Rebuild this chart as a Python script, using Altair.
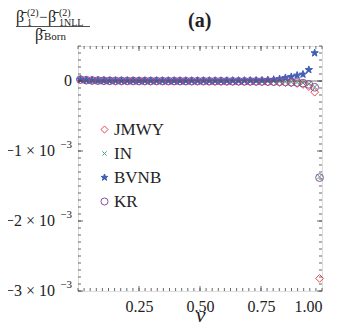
import altair as alt
import pandas as pd
import numpy as np

# ---- data (values in units of 1e-3) ----
v = [0.010, 0.034, 0.058, 0.082, 0.106, 0.130, 0.154, 0.178, 0.202, 0.226,
     0.250, 0.274, 0.298, 0.322, 0.346, 0.370, 0.394, 0.418, 0.442, 0.466,
     0.490, 0.514, 0.538, 0.562, 0.586, 0.610, 0.634, 0.658, 0.682, 0.706,
     0.730, 0.754, 0.778, 0.802, 0.826, 0.850, 0.874, 0.898, 0.922, 0.946,
     0.970]
v_last = [0.990]

jmwy = [0.020, 0.012, 0.008, 0.006, 0.004, 0.003, 0.002, 0.002, 0.001, 0.001,
        0.000, 0.000, 0.000, -0.001, -0.001, -0.001, -0.002, -0.002, -0.002, -0.003,
        -0.003, -0.003, -0.004, -0.004, -0.005, -0.005, -0.006, -0.007, -0.008, -0.009,
        -0.010, -0.012, -0.014, -0.016, -0.019, -0.023, -0.028, -0.036, -0.050, -0.080,
        -0.160]
jmwy_last = [-2.82]

in_ = [0.020, 0.012, 0.008, 0.006, 0.004, 0.003, 0.002, 0.002, 0.001, 0.001,
       0.000, 0.000, 0.000, 0.000, -0.001, -0.001, -0.001, -0.001, -0.002, -0.002,
       -0.002, -0.002, -0.003, -0.003, -0.003, -0.004, -0.004, -0.004, -0.005, -0.005,
       -0.005, -0.006, -0.007, -0.008, -0.010, -0.012, -0.015, -0.020, -0.028, -0.045,
       -0.085]
in_last = [-1.37]

bvnb = [0.020, 0.012, 0.009, 0.007, 0.006, 0.005, 0.005, 0.005, 0.005, 0.005,
        0.005, 0.005, 0.005, 0.005, 0.005, 0.005, 0.005, 0.005, 0.005, 0.005,
        0.005, 0.005, 0.005, 0.005, 0.005, 0.006, 0.006, 0.006, 0.007, 0.008,
        0.009, 0.010, 0.015, 0.020, 0.030, 0.045, 0.060, 0.080, 0.095, 0.160,
        0.400]

kr = [0.020, 0.012, 0.008, 0.006, 0.004, 0.003, 0.002, 0.002, 0.001, 0.001,
      0.000, 0.000, 0.000, 0.000, -0.001, -0.001, -0.001, -0.001, -0.002, -0.002,
      -0.002, -0.002, -0.003, -0.003, -0.003, -0.004, -0.004, -0.004, -0.005, -0.005,
      -0.005, -0.006, -0.007, -0.008, -0.010, -0.012, -0.016, -0.021, -0.030, -0.048,
      -0.090]
kr_last = [-1.38]

names = ["JMWY", "IN", "BVNB", "KR"]
x_major = [0.25, 0.50, 0.75, 1.00]
y_major = [-3, -2, -1, 0]
y_exp_vals = [-3, -2, -1]
y_mant = ["\u22123 \u00d7 10", "\u22122 \u00d7 10", "\u22121 \u00d7 10"]
y_exp = ["\u22123", "\u22123", "\u22123"]
y_zero_label = "0"

rows = []
for s, xs_, ys_ in [("JMWY", v + v_last, jmwy + jmwy_last),
                    ("IN", v + v_last, in_ + in_last),
                    ("BVNB", v, bvnb),
                    ("KR", v + v_last, kr + kr_last)]:
    for a, b in zip(xs_, ys_):
        rows.append({"series": s, "v": a, "val": b})
df = pd.DataFrame(rows)

W, H = 244, 245
SERIF = "Liberation Serif"
AX = "#444444"

xs = alt.Scale(domain=[0, 1], nice=False, zero=False)
ys = alt.Scale(domain=[-3, 0.5], nice=False, zero=False)

ax_x = alt.Axis(
    values=x_major, format=".2f", title="v", domain=False, ticks=False, tickSize=0,
    grid=False, labelPadding=7, titleBaseline="alphabetic", titleY=30)
ax_y = alt.Axis(values=y_major, title=None, domain=False, ticks=False, tickSize=0,
                grid=False, labels=False)

star = ("M0,-1L0.235,-0.324L0.951,-0.309L0.380,0.124L0.588,0.809L0,0.4"
        "L-0.588,0.809L-0.380,0.124L-0.951,-0.309L-0.235,-0.324Z")
xmark = "M-0.6,-0.6L0.6,0.6M-0.6,0.6L0.6,-0.6"
shapes = ["diamond", xmark, star, "circle"]
strokes = ["#e8474c", "#4a9f6a", "#3f5fb5", "#8b4f9f"]
fills = ["transparent", "transparent", "#3f5fb5", "transparent"]

def leg():
    return alt.Legend(title=None, orient="none", legendX=18, legendY=75,
                      labelFont=SERIF, labelFontSize=17, labelColor="#222",
                      rowPadding=6, labelOffset=1, symbolStrokeWidth=1,
                      symbolSize=50, padding=0)

points = alt.Chart(df).mark_point(size=60, strokeWidth=1, opacity=1).encode(
    x=alt.X("v:Q", scale=xs, axis=ax_x),
    y=alt.Y("val:Q", scale=ys, axis=ax_y),
    shape=alt.Shape("series:N", scale=alt.Scale(domain=names, range=shapes), legend=leg()),
    stroke=alt.Stroke("series:N", scale=alt.Scale(domain=names, range=strokes), legend=leg()),
    fill=alt.Fill("series:N", scale=alt.Scale(domain=names, range=fills), legend=leg()),
)

zero = alt.Chart(pd.DataFrame({"val": [0]})).mark_rule(color="#555", strokeWidth=0.8).encode(
    y=alt.Y("val:Q", scale=ys, axis=ax_y))

# y tick labels (mantissa + raised exponent), placed through the y scale
ylab_df = pd.DataFrame({"val": y_exp_vals, "mant": y_mant, "exp": y_exp})
ylab_m = alt.Chart(ylab_df).mark_text(align="right", baseline="middle", font=SERIF,
                                      fontSize=16, color="#222").encode(
    y=alt.Y("val:Q", scale=ys, axis=ax_y), text="mant:N", x=alt.value(-23))
ylab_e = alt.Chart(ylab_df).mark_text(align="right", baseline="middle", font=SERIF,
                                      fontSize=11, color="#222", dy=-6).encode(
    y=alt.Y("val:Q", scale=ys, axis=ax_y), text="exp:N", x=alt.value(-6))
ylab_0 = alt.Chart(pd.DataFrame({"val": [0], "lab": [y_zero_label]})).mark_text(
    align="right", baseline="middle", font=SERIF, fontSize=16, color="#222").encode(
    y=alt.Y("val:Q", scale=ys, axis=ax_y), text="lab:N", x=alt.value(-6))

y_minor = [round(t, 2) for t in np.arange(-3, 0.5001, 0.1)]
x_minor = [round(t, 3) for t in np.arange(0, 1.0001, 0.025)]
ymin_df = pd.DataFrame({"val": y_minor})
ymaj_df = pd.DataFrame({"val": y_major})
xmin_df = pd.DataFrame({"v": x_minor})
xmaj_df = pd.DataFrame({"v": [0.25, 0.5, 0.75]})

def yticks(d, L):
    a = alt.Chart(d).mark_rule(color=AX, strokeWidth=0.8).encode(
        y=alt.Y("val:Q", scale=ys, axis=ax_y), x=alt.value(0), x2=alt.value(L))
    b = alt.Chart(d).mark_rule(color=AX, strokeWidth=0.8).encode(
        y=alt.Y("val:Q", scale=ys, axis=ax_y), x=alt.value(W), x2=alt.value(W - L))
    return [a, b]

def xticks(d, L):
    a = alt.Chart(d).mark_rule(color=AX, strokeWidth=0.8).encode(
        x=alt.X("v:Q", scale=xs, axis=ax_x), y=alt.value(H), y2=alt.value(H - L))
    b = alt.Chart(d).mark_rule(color=AX, strokeWidth=0.8).encode(
        x=alt.X("v:Q", scale=xs, axis=ax_x), y=alt.value(0), y2=alt.value(L))
    return [a, b]

ticks = yticks(ymin_df, 3) + yticks(ymaj_df, 5) + xticks(xmin_df, 3) + xticks(xmaj_df, 5)

one = alt.Data(values=[{}])

def txt(s, x, y, size, weight="normal", font=SERIF):
    return alt.Chart(one).mark_text(align="left", baseline="middle", font=font,
                                    fontSize=size, fontWeight=weight, color="#222").encode(
        text=alt.value(s), x=alt.value(x), y=alt.value(y))

beta = "\u03b2\u0304"
labels = [
    txt(beta, -62, -29, 16),
    txt("(2)", -51, -33, 10),
    txt("1", -51, -23.5, 10),
    txt("\u2212", -39, -29, 15),
    txt(beta, -30, -29, 16),
    txt("(2)", -19, -33, 10),
    txt("1NLL", -19, -23.5, 10),
    txt(beta, -43, -11, 16),
    txt("Born", -34, -9, 11),
    txt("(a)", 110, -25, 20, weight="bold"),
]
bar = alt.Chart(one).mark_rule(color="#222", strokeWidth=0.8).encode(
    x=alt.value(-62), x2=alt.value(12), y=alt.value(-19.5))

chart = alt.layer(points, zero, ylab_m, ylab_e, ylab_0, *ticks, *labels, bar).properties(
    width=W, height=H,
    autosize=alt.AutoSizeParams(type="none"),
    padding={"left": 70, "top": 38, "right": 8, "bottom": 34},
).configure_view(stroke=AX, strokeWidth=1).configure(background="white"
).configure_axisX(
    labelFont=SERIF, labelFontSize=16, labelColor="#222",
    titleFont=SERIF, titleFontStyle="italic", titleFontWeight="normal",
    titleFontSize=22, titleColor="#222"
)

chart.save("out.html", embed_options={"renderer": "svg", "actions": False})
